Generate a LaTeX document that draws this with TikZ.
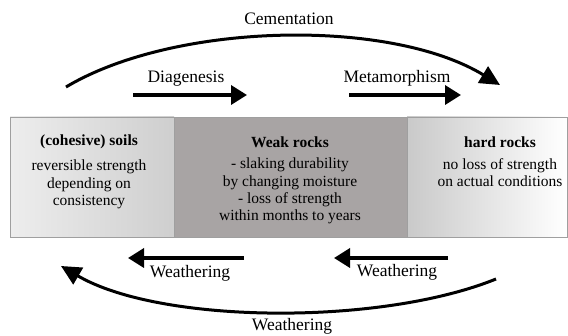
\documentclass[tikz,border=0pt]{standalone}
\usepackage{fontspec}
\setmainfont{LiberationSerif}[Extension=.ttf, UprightFont=*-Regular, BoldFont=*-Bold, ItalicFont=*-Italic, BoldItalicFont=*-BoldItalic]
\usetikzlibrary{arrows.meta}

\definecolor{weakgray}{RGB}{168,164,164}
\tikzset{
  rockbox/.style={draw=gray!75, line width=0.8pt, minimum height=120pt, inner sep=0pt},
  boxtitle/.style={font=\fontsize{15.5}{18}\selectfont\bfseries, inner sep=0pt},
  boxtext/.style={font=\fontsize{15.5}{17.3}\selectfont, align=center, inner sep=0pt, anchor=north},
  proc/.style={line width=3.5pt, -{Triangle[length=16pt,width=19pt]}},
  bigproc/.style={line width=3pt, -{Triangle[length=20pt,width=19pt]}},
  proclabel/.style={font=\fontsize{17.5}{20}\selectfont, inner sep=0pt},
}

\begin{document}
\begin{tikzpicture}[x=1pt,y=-1pt]
    \useasboundingbox (0,0) rectangle (568,336);

    % the three boxes
    \node[rockbox, minimum width=164pt, left color=gray!14, middle color=gray!4, right color=gray!38] (soils) at (92,177) {};
    \node[rockbox, minimum width=233pt, fill=weakgray] (weak) at (290.5,177) {};
    \node[rockbox, minimum width=160pt, left color=gray!42, right color=white] (hard) at (487,177) {};

    \node[boxtitle] (soilstitle) at (89,142) {(cohesive) soils};
    \node[boxtext] (soilstext) at (89,160) {reversible strength\\depending on\\consistency};
    \node[boxtitle] (weaktitle) at (290,142) {Weak rocks};
    \node[boxtext] (weaktext) at (290,158) {- slaking durability\\by changing moisture\\- loss of strength\\within months to years};
    \node[boxtitle] (hardtitle) at (500,142) {hard rocks};
    \node[boxtext] (hardtext) at (500,158) {no loss of strength\\on actual conditions};

    % upper arrows
    \coordinate (cemstart) at (66,87);
    \coordinate (cemend) at (500,85);
    \draw[bigproc] (cemstart) .. controls (175,22) and (390,18) .. (cemend);
    \node[proclabel] (cemlabel) at (289,19) {Cementation};

    \coordinate (diastart) at (133,95);
    \coordinate (diaend) at (247,95);
    \draw[proc] (diastart) -- (diaend);
    \node[proclabel] (dialabel) at (186,79) {Diagenesis};

    \coordinate (metastart) at (349,95);
    \coordinate (metaend) at (461,95);
    \draw[proc] (metastart) -- (metaend);
    \node[proclabel] (metalabel) at (397,78) {Metamorphism};

    % lower arrows
    \coordinate (weaklstart) at (244,258);
    \coordinate (weaklend) at (128,258);
    \draw[proc] (weaklstart) -- (weaklend);
    \node[proclabel] (weakllabel) at (190,273) {Weathering};

    \coordinate (weakrstart) at (448,258);
    \coordinate (weakrend) at (334,258);
    \draw[proc] (weakrstart) -- (weakrend);
    \node[proclabel] (weakrlabel) at (397,272) {Weathering};

    \coordinate (weabstart) at (496,279);
    \coordinate (weabend) at (61,266);
    \draw[bigproc] (weabstart) .. controls (380,326) and (160,324) .. (weabend);
    \node[proclabel] (weablabel) at (292,326) {Weathering};
\end{tikzpicture}
\end{document}
